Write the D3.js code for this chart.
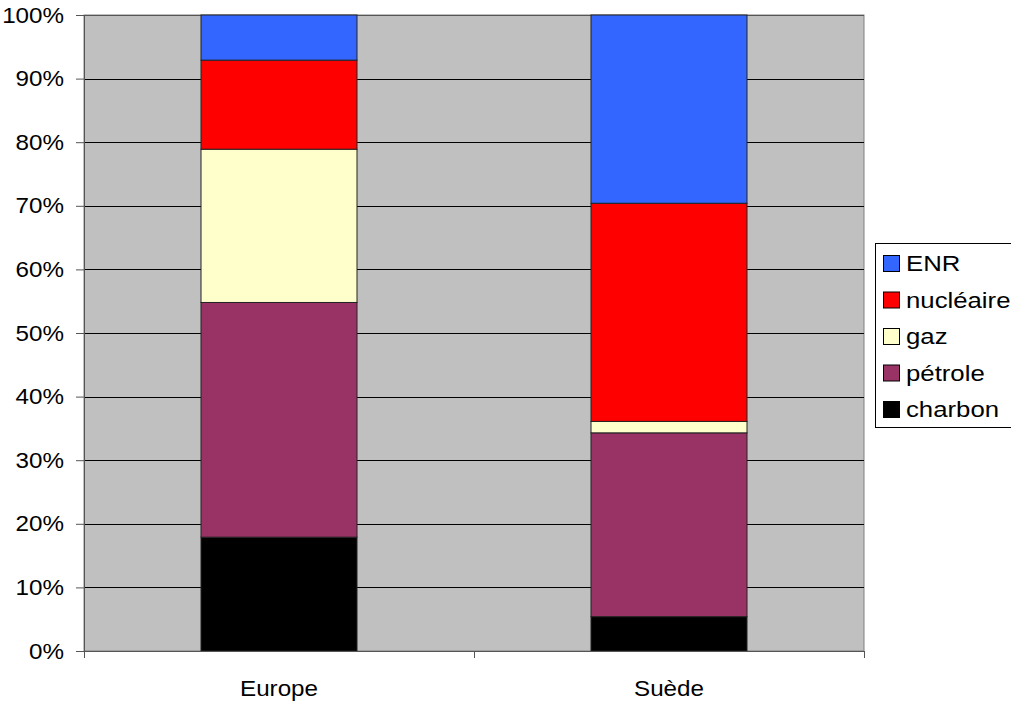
<!DOCTYPE html>
<html>
<head>
<meta charset="utf-8">
<script src="https://cdn.jsdelivr.net/npm/d3@7"></script>
<style>
  html, body { margin: 0; padding: 0; background: #fff; }
  svg { display: block; font-family: "Liberation Sans", Arial, sans-serif; }
</style>
</head>
<body>
<svg id="chart" width="1011" height="704"></svg>
<script>
// Energy mix shares (%) per region
const categories = ["Europe", "Suède"];
const sources = ["charbon", "pétrole", "gaz", "nucléaire", "ENR"];
const charbon   = [17.9, 5.4];
const petrole   = [36.9, 28.9];
const gaz       = [24.1, 1.8];
const nucleaire = [14.0, 34.3];
const enr       = [7.1, 29.6];
const yTicks = [0, 10, 20, 30, 40, 50, 60, 70, 80, 90, 100];
const colors = ["#000000", "#993366", "#FFFFCC", "#FF0000", "#3366FF"];

const seriesValues = [charbon, petrole, gaz, nucleaire, enr];
const rows = categories.map((c, i) => {
  const r = { cat: c };
  sources.forEach((s, j) => r[s] = seriesValues[j][i]);
  return r;
});

const FS = 22;        // axis font size
const SX = 1.1;       // horizontal glyph stretch for axis text
const LFS = 23;       // legend font size
const LSX = 1.12;

const svg = d3.select("#chart");
const margin = { left: 84, top: 15, right: 1011 - 864, bottom: 704 - 651 };
const W = 1011 - margin.left - margin.right;
const H = 704 - margin.top - margin.bottom;

const x = d3.scaleBand().domain(categories).range([0, W]).paddingInner(0.6).paddingOuter(0.3);
const xOuter = d3.scaleBand().domain(categories).range([0, W]);
const y = d3.scaleLinear().domain([0, 100]).range([H, 0]);
const color = d3.scaleOrdinal().domain(sources).range(colors);

const g = svg.append("g").attr("transform", `translate(${margin.left},${margin.top})`);

// plot background
g.append("rect").attr("x", 0).attr("y", 0).attr("width", W).attr("height", H)
  .attr("fill", "#C0C0C0").attr("stroke", "#808080").attr("stroke-width", 1);

// horizontal gridlines
g.append("g").selectAll("line").data(yTicks.filter(t => t > 0)).join("line")
  .attr("x1", 0).attr("x2", W)
  .attr("y1", d => Math.round(y(d)) + 0.5).attr("y2", d => Math.round(y(d)) + 0.5)
  .attr("stroke", d => d === 100 ? "#555" : "#000").attr("stroke-width", 1);

// stacked bars
const stack = d3.stack().keys(sources)(rows);
g.append("g").selectAll("g").data(stack).join("g")
  .attr("fill", d => color(d.key))
  .selectAll("rect").data(d => d).join("rect")
  .attr("x", d => x(d.data.cat))
  .attr("width", x.bandwidth())
  .attr("y", d => y(d[1]))
  .attr("height", d => y(d[0]) - y(d[1]))
  .attr("stroke", "#222").attr("stroke-width", 1);

// y axis
const yAxis = g.append("g").call(d3.axisLeft(y).tickValues(yTicks).tickFormat(d => d + "%").tickSize(8).tickSizeOuter(0));
yAxis.select(".domain").attr("stroke", "#555");
yAxis.selectAll(".tick line").attr("stroke", "#555");
yAxis.selectAll("text").attr("font-size", FS).attr("x", 0).attr("fill", "#000")
  .attr("font-family", "Liberation Sans, Arial, sans-serif")
  .attr("transform", `translate(-20,0) scale(${SX},1)`);

// x axis: ticks on category boundaries
const xAxisG = g.append("g").attr("transform", `translate(0,${H})`);
xAxisG.append("line").attr("x1", 0).attr("x2", W).attr("y1", 0.5).attr("y2", 0.5).attr("stroke", "#555");
const bounds = [0].concat(categories.map(c => xOuter(c) + xOuter.bandwidth()));
xAxisG.selectAll("line.tk").data(bounds).join("line").attr("class", "tk")
  .attr("x1", d => Math.round(d) + 0.5).attr("x2", d => Math.round(d) + 0.5)
  .attr("y1", 0).attr("y2", 7).attr("stroke", "#555");
xAxisG.selectAll("text").data(categories).join("text")
  .attr("transform", d => `translate(${xOuter(d) + xOuter.bandwidth() / 2},45) scale(${SX},1)`)
  .attr("text-anchor", "middle").attr("font-size", FS).text(d => d);

// legend
const legendItems = sources.slice().reverse();
const lg = svg.append("g").attr("transform", "translate(875,243)");
lg.append("rect").attr("x", 0.5).attr("y", 0.5).attr("width", 150).attr("height", 184)
  .attr("fill", "#fff").attr("stroke", "#000");
const li = lg.selectAll("g.item").data(legendItems).join("g").attr("class", "item")
  .attr("transform", (d, i) => `translate(8,${28 + i * 36.5})`);
li.append("rect").attr("x", 0.5).attr("y", -15.5).attr("width", 16).attr("height", 16)
  .attr("fill", d => color(d)).attr("stroke", "#000");
li.append("text").attr("transform", `translate(23,0) scale(${LSX},1)`)
  .attr("font-size", LFS).text(d => d);
</script>
</body>
</html>
